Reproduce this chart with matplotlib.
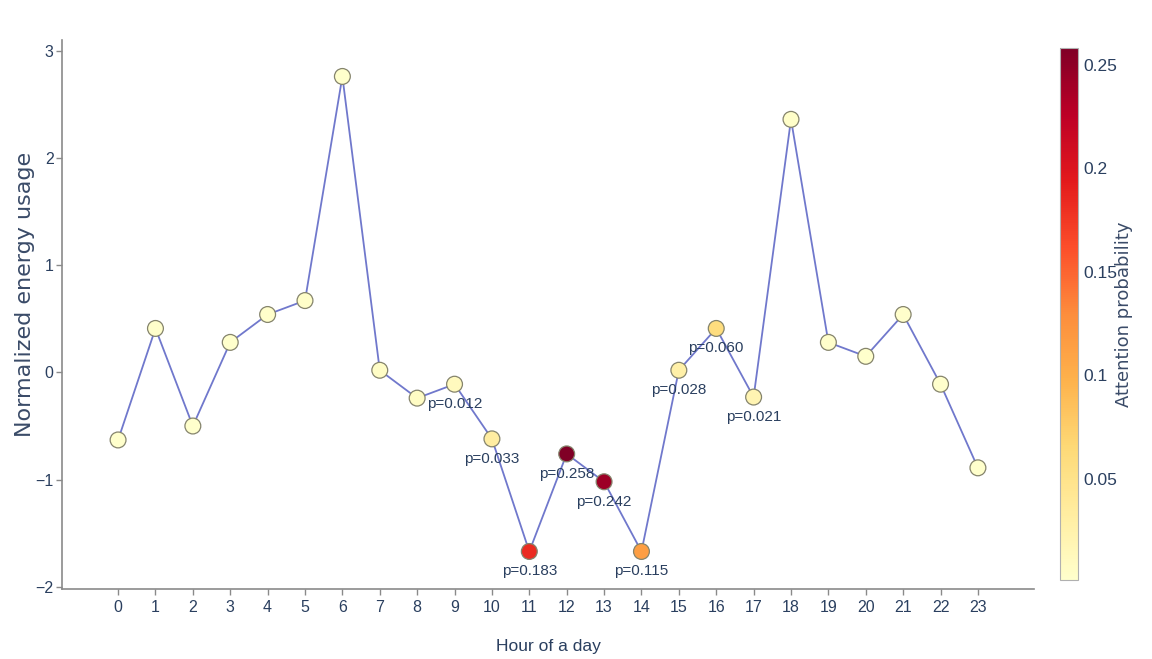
import numpy as np
import matplotlib.pyplot as plt
from matplotlib.colors import Normalize
from matplotlib.ticker import FuncFormatter

# ============================================================
# Hourly energy profile, markers coloured by attention weight
# ============================================================

# --- data ---
hours = list(range(24))
energy = [-0.63, 0.41, -0.50, 0.28, 0.54, 0.67, 2.76, 0.02, -0.24, -0.11,
          -0.62, -1.67, -0.76, -1.02, -1.67, 0.02, 0.41, -0.23, 2.36, 0.28,
          0.15, 0.54, -0.11, -0.89]
attention = [0.002, 0.003, 0.002, 0.002, 0.003, 0.004, 0.002, 0.006, 0.008, 0.012,
             0.033, 0.183, 0.258, 0.242, 0.115, 0.028, 0.060, 0.021, 0.004, 0.003,
             0.002, 0.003, 0.002, 0.001]
label_threshold = 0.01  # only the larger weights get a "p=" label

cb_ticks = [0.05, 0.1, 0.15, 0.2, 0.25]

# ============================================================
# Styling
# ============================================================
text_col = "#2a3f5f"
axis_col = "#8a8a8a"

plt.rcParams.update({
    "font.family": ["Liberation Sans", "DejaVu Sans"],
    "axes.edgecolor": axis_col,
    "xtick.color": axis_col,
    "ytick.color": axis_col,
    "xtick.labelcolor": text_col,
    "ytick.labelcolor": text_col,
})

fig = plt.figure(figsize=(11.52, 6.59), dpi=100)
W, H = 1152, 659
# axes box in pixels: left 62, right 1034, top 40, bottom 589
ax = fig.add_axes([62 / W, 1 - 589 / H, (1034 - 62) / W, (589 - 40) / H])
cax = fig.add_axes([1060 / W, 1 - 580 / H, 18 / W, 532 / H])

norm = Normalize(vmin=0.001, vmax=0.258)
cmap = plt.get_cmap("YlOrRd")

ax.plot(hours, energy, color="#7078cc", linewidth=1.3, zorder=1)
sc = ax.scatter(hours, energy, c=attention, cmap=cmap, norm=norm, s=130,
                edgecolors="#85846c", linewidths=0.9, zorder=2)

for h, e, p in zip(hours, energy, attention):
    if p >= label_threshold:
        ax.annotate(f"p={p:.3f}", (h, e), xytext=(0, -20), textcoords="offset pixels",
                    ha="center", va="center", fontsize=11, color=text_col, zorder=3)

ax.set_xlim(-1.5, 24.5)
ax.set_ylim(-2.02, 3.1)
ax.set_xticks(hours)
ax.set_yticks([-2, -1, 0, 1, 2, 3])
ax.tick_params(axis="x", length=4, width=1, pad=4, labelsize=11.5)
ax.tick_params(axis="y", length=4, width=1, pad=2, labelsize=11.5)

for side in ["top", "right"]:
    ax.spines[side].set_visible(False)
for side in ["left", "bottom"]:
    ax.spines[side].set_linewidth(1.2)

ax.set_xlabel("Hour of a day", fontsize=12.5, color=text_col, va="center")
ax.xaxis.set_label_coords(0.5, (589 - 647) / 549)
ax.set_ylabel("Normalized energy usage", fontsize=16, color="#3a4b68",
              family="DejaVu Sans", va="center")
ax.yaxis.set_label_coords((25 - 62) / 972, (589 - 294) / 549)

# --- colour bar ---
cbar = fig.colorbar(sc, cax=cax, ticks=cb_ticks)
cbar.outline.set_edgecolor("#b0b0b0")
cbar.outline.set_linewidth(0.8)
cbar.ax.yaxis.set_major_formatter(FuncFormatter(lambda v, _: f"{v:g}"))
cbar.ax.tick_params(length=0, pad=4, labelsize=12.5, labelcolor=text_col)
cbar.set_label("Attention probability", fontsize=13, color="#3a4b68",
               family="DejaVu Sans", rotation=90)
cbar.ax.yaxis.set_label_coords((1124 - 1060) / 18, 0.5)
cbar.ax.yaxis.label.set_va("center")

plt.savefig("out.png", dpi=100)
